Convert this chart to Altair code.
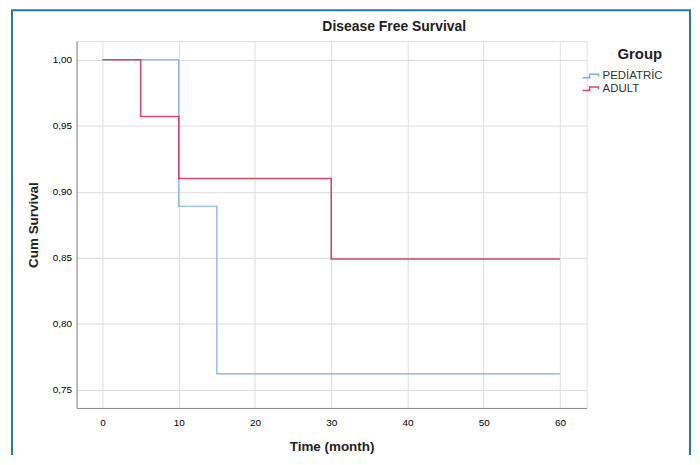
import altair as alt
import pandas as pd

# ---- data ----
groups = ["PEDİATRİC", "ADULT"]
ped_time = [0, 10, 15, 60]
ped_surv = [1.000, 0.889, 0.762, 0.762]
adult_time = [0, 5, 10, 30, 60]
adult_surv = [1.000, 0.957, 0.910, 0.849, 0.849]
x_ticks = [0, 10, 20, 30, 40, 50, 60]
y_ticks = [0.75, 0.80, 0.85, 0.90, 0.95, 1.00]
colors = ["#7eaadc", "#d2476c"]

df = pd.concat([
    pd.DataFrame({"time": ped_time, "surv": ped_surv, "group": groups[0]}),
    pd.DataFrame({"time": adult_time, "surv": adult_surv, "group": groups[1]}),
])

FONT = "Liberation Sans"
axis_title = dict(titleFont=FONT, titleFontSize=13.5, titleFontWeight="bold", titleColor="#222")

x_enc = alt.X("time:Q", scale=alt.Scale(domain=[-3.4, 63.5], nice=False, zero=False),
              axis=alt.Axis(values=x_ticks, title="Time (month)", ticks=False,
                            labelPadding=10, titlePadding=12, **axis_title))
y_enc = alt.Y("surv:Q", scale=alt.Scale(domain=[0.7362, 1.0141], nice=False, zero=False),
              axis=alt.Axis(values=y_ticks, title="Cum Survival", ticks=False,
                            labelExpr="replace(format(datum.value, '.2f'), '.', ',')",
                            labelPadding=5, titlePadding=12, **axis_title))

lines = alt.Chart(df).mark_line(interpolate="step-after", clip=True).encode(
    x=x_enc,
    y=y_enc,
    color=alt.Color("group:N", scale=alt.Scale(domain=groups, range=colors),
                    sort=groups,
                    legend=alt.Legend(title="Group", orient="none", legendX=512, legendY=6,
                                      symbolType="M-1.8,0.35H-0.4V-0.35H1.4V0.1",
                                      symbolSize=100, symbolStrokeWidth=1.5,
                                      symbolFillColor="transparent",
                                      titleAnchor="end", titleFontSize=15,
                                      titleFontWeight="bold", titleColor="#222",
                                      titleFont=FONT, titlePadding=8,
                                      labelFont=FONT, labelFontSize=11.5, labelColor="#333",
                                      labelOffset=5, rowPadding=1)),
    strokeWidth=alt.condition(alt.datum.group == "ADULT", alt.value(1.6), alt.value(1.2)),
)

frame = alt.Chart(pd.DataFrame({"a": [0]})).mark_rect(
    fill=None, stroke="#2378ad", strokeWidth=2, clip=False
).encode(x=alt.value(-65), x2=alt.value(617), y=alt.value(-31), y2=alt.value(480))

chart = alt.layer(frame, lines).properties(
    width=513, height=369,
    title=alt.TitleParams("Disease Free Survival", anchor="middle", dx=63, dy=32,
                          font=FONT, fontSize=14, fontWeight="bold", color="#222",
                          offset=7),
    autosize=alt.AutoSizeParams(type="none"),
    padding={"left": 69, "top": 32, "right": 106, "bottom": 46},
).configure_view(stroke=None).configure_axis(
    grid=True, gridColor="#d3d3d3", gridWidth=1,
    domainColor="#a3a3a3", domainWidth=1.5,
    labelFont=FONT, labelFontSize=9.5, labelColor="#555",
).configure(background="white")

chart.save("out.html", embed_options={"renderer": "svg", "actions": False})
